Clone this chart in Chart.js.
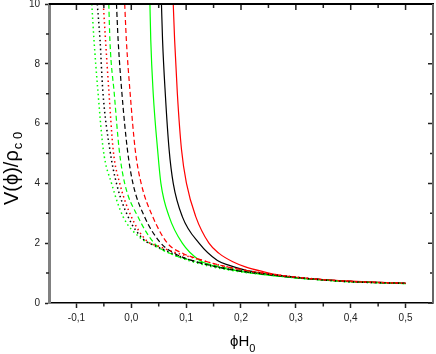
<!DOCTYPE html>
<html>
<head>
<meta charset="utf-8">
<script src="https://cdn.jsdelivr.net/npm/chart.js@4"></script>
<style>
  html, body { margin: 0; padding: 0; background: #fff; }
  #wrap { width: 436px; height: 354px; position: relative; }
</style>
</head>
<body>
<div id="wrap"><canvas id="myChart" width="436" height="354"></canvas></div>
<script>
// axis ticks
var xTickValues = [-0.1, 0.0, 0.1, 0.2, 0.3, 0.4, 0.5];
var xMinorValues = [-0.05, 0.05, 0.15, 0.25, 0.35, 0.45];
var yTickValues = [0, 2, 4, 6, 8, 10];
var yMinorValues = [1, 3, 5, 7, 9];

// solid curves
var solidRedX = [0.0765, 0.079, 0.084, 0.0916, 0.1006, 0.1175, 0.1416, 0.160, 0.185, 0.208, 0.24, 0.27, 0.30, 0.35, 0.40, 0.45, 0.50];
var solidRedY = [10, 8.8, 7.0, 5.12, 4.0, 2.89, 2.0, 1.66, 1.38, 1.21, 1.05, 0.93, 0.86, 0.78, 0.73, 0.69, 0.66];
var solidBlackX = [0.055, 0.057, 0.062, 0.069, 0.0765, 0.093, 0.1235, 0.157, 0.18, 0.208, 0.24, 0.27, 0.30, 0.35, 0.40, 0.45, 0.50];
var solidBlackY = [10, 8.8, 7.0, 5.12, 4.0, 2.89, 2.0, 1.42, 1.25, 1.10, 0.99, 0.91, 0.85, 0.78, 0.72, 0.69, 0.66];
var solidGreenX = [0.034, 0.0355, 0.040, 0.048, 0.054, 0.069, 0.093, 0.1235, 0.16, 0.208, 0.25, 0.30, 0.35, 0.40, 0.45, 0.50];
var solidGreenY = [10, 8.8, 7.0, 5.12, 4.0, 2.89, 2.0, 1.44, 1.2, 1.03, 0.93, 0.84, 0.77, 0.71, 0.68, 0.65];

// dashed curves
var dashRedX = [-0.012, -0.009, -0.002, 0.0072, 0.018, 0.039, 0.066, 0.095, 0.1175, 0.154, 0.196, 0.25, 0.30, 0.35, 0.40, 0.45, 0.50];
var dashRedY = [10, 8.8, 7.0, 5.12, 4.0, 2.89, 2.0, 1.65, 1.5, 1.3, 1.13, 0.97, 0.86, 0.78, 0.72, 0.69, 0.66];
var dashBlackX = [-0.027, -0.024, -0.017, -0.007, 0.003, 0.024, 0.054, 0.081, 0.0995, 0.1475, 0.20, 0.25, 0.30, 0.35, 0.40, 0.45, 0.50];
var dashBlackY = [10, 8.8, 7.0, 5.12, 4.0, 2.89, 2.0, 1.64, 1.49, 1.24, 1.06, 0.95, 0.85, 0.78, 0.72, 0.68, 0.66];
var dashGreenX = [-0.041, -0.039, -0.031, -0.022, -0.012, 0.012, 0.042, 0.075, 0.10, 0.129, 0.18, 0.25, 0.30, 0.35, 0.40, 0.45, 0.50];
var dashGreenY = [10, 8.8, 7.0, 5.12, 4.0, 2.89, 2.0, 1.62, 1.47, 1.35, 1.15, 0.96, 0.85, 0.77, 0.71, 0.68, 0.65];

// dotted curves
var dotRedX = [-0.051, -0.047, -0.041, -0.033, -0.021, 0.0, 0.027, 0.05, 0.075, 0.111, 0.16, 0.20, 0.25, 0.30, 0.35, 0.40, 0.45, 0.50];
var dotRedY = [10, 8.8, 7.12, 5.12, 4.0, 2.89, 2.1, 1.9, 1.72, 1.52, 1.27, 1.12, 0.98, 0.87, 0.78, 0.72, 0.68, 0.66];
var dotBlackX = [-0.062, -0.057, -0.052, -0.039, -0.027, -0.006, 0.021, 0.045, 0.060, 0.10, 0.15, 0.20, 0.25, 0.30, 0.35, 0.40, 0.45, 0.50];
var dotBlackY = [10, 8.8, 7.12, 5.12, 4.0, 2.89, 2.15, 1.9, 1.78, 1.48, 1.23, 1.07, 0.96, 0.86, 0.77, 0.71, 0.68, 0.66];
var dotGreenX = [-0.072, -0.068, -0.061, -0.051, -0.036, -0.015, 0.015, 0.039, 0.054, 0.10, 0.15, 0.20, 0.25, 0.30, 0.35, 0.40, 0.45, 0.50];
var dotGreenY = [10, 8.8, 7.12, 5.12, 4.0, 2.89, 2.2, 1.95, 1.80, 1.45, 1.2, 1.04, 0.94, 0.84, 0.77, 0.71, 0.68, 0.65];

var RED = "#ff0000", BLACK = "#000000", GREEN = "#00ff00";
var FONT = '"Liberation Sans", Arial, sans-serif';

function pts(xs, ys) {
  return xs.map(function (x, i) { return { x: x, y: ys[i] }; });
}

function series(xs, ys, color, dash, width) {
  return {
    data: pts(xs, ys),
    borderColor: color,
    backgroundColor: color,
    borderWidth: width,
    borderDash: dash,
    pointRadius: 0,
    showLine: true,
    fill: false,
    cubicInterpolationMode: "monotone"
  };
}

// no label padding, the plot box is placed by hand
function noPad(s) {
  s.paddingTop = 0; s.paddingBottom = 0;
  s.paddingLeft = 0; s.paddingRight = 0;
}

// minor ticks, mirrored ticks on top/right, frame and axis titles
var framePlugin = {
  id: "frame",
  afterDraw: function (chart) {
    var ctx = chart.ctx, a = chart.chartArea;
    var xs = chart.scales.x, ys = chart.scales.y;
    ctx.save();
    ctx.strokeStyle = "#222";
    ctx.lineWidth = 1.5;
    ctx.beginPath();
    xTickValues.forEach(function (v) {
      var px = xs.getPixelForValue(v);
      ctx.moveTo(px, a.top); ctx.lineTo(px, a.top + 6);
    });
    xMinorValues.forEach(function (v) {
      var px = xs.getPixelForValue(v);
      ctx.moveTo(px, a.bottom); ctx.lineTo(px, a.bottom + 3.5);
      ctx.moveTo(px, a.top); ctx.lineTo(px, a.top + 4);
    });
    yTickValues.forEach(function (v) {
      var py = ys.getPixelForValue(v);
      ctx.moveTo(a.right, py); ctx.lineTo(a.right - 5, py);
    });
    yMinorValues.forEach(function (v) {
      var py = ys.getPixelForValue(v);
      ctx.moveTo(a.left, py); ctx.lineTo(a.left - 3, py);
      ctx.moveTo(a.right, py); ctx.lineTo(a.right - 3, py);
    });
    ctx.stroke();

    // top and right border
    ctx.strokeStyle = "#000";
    ctx.lineWidth = 2;
    ctx.beginPath();
    ctx.moveTo(a.left, a.top); ctx.lineTo(a.right + 1, a.top);
    ctx.stroke();
    ctx.strokeStyle = "#666";
    ctx.beginPath();
    ctx.moveTo(a.right, a.top); ctx.lineTo(a.right, a.bottom);
    ctx.stroke();

    // y title: V(phi)/rho_c0
    ctx.fillStyle = "#000";
    ctx.textBaseline = "alphabetic";
    ctx.translate(18, 205);
    ctx.rotate(-Math.PI / 2);
    ctx.font = "20px " + FONT;
    var main = "V(\u03d5)/\u03c1";
    ctx.fillText(main, 0, 0);
    var w = ctx.measureText(main).width;
    ctx.font = "13px " + FONT;
    ctx.fillText("c 0", w + 1, 4);
    ctx.setTransform(1, 0, 0, 1, 0, 0);

    // x title: phi H_0
    ctx.font = "15px " + FONT;
    ctx.fillText("\u03d5H", 230, 346);
    var w2 = ctx.measureText("\u03d5H").width;
    ctx.font = "11px " + FONT;
    ctx.fillText("0", 230 + w2, 352);
    ctx.restore();
  }
};

var datasets = [
  series(dotRedX, dotRedY, RED, [1.5, 3], 1.5),
  series(dotBlackX, dotBlackY, BLACK, [1.5, 3], 1.5),
  series(dotGreenX, dotGreenY, GREEN, [1.5, 3], 1.5),
  series(dashRedX, dashRedY, RED, [5, 3], 1.2),
  series(dashBlackX, dashBlackY, BLACK, [5, 3], 1.2),
  series(dashGreenX, dashGreenY, GREEN, [5, 3], 1.2),
  series(solidRedX, solidRedY, RED, [], 1.2),
  series(solidBlackX, solidBlackY, BLACK, [], 1.2),
  series(solidGreenX, solidGreenY, GREEN, [], 1.2)
];

var myChart = new Chart(document.getElementById("myChart").getContext("2d"), {
  type: "scatter",
  data: { datasets: datasets },
  plugins: [framePlugin],
  options: {
    responsive: false,
    animation: false,
    layout: { padding: { left: 0, top: 4, right: 3, bottom: 0 } },
    plugins: { legend: { display: false }, tooltip: { enabled: false } },
    scales: {
      x: {
        type: "linear",
        min: -0.15,
        max: 0.55,
        afterFit: function (s) { s.height = 51; noPad(s); },
        afterBuildTicks: function (s) {
          s.ticks = xTickValues.map(function (v) { return { value: v }; });
        },
        ticks: {
          padding: 4,
          color: "#222",
          font: { family: FONT, size: 10 },
          maxRotation: 0,
          callback: function (v) { return Number(v).toFixed(1).replace(".", ","); }
        },
        grid: { drawOnChartArea: false, drawTicks: true, tickLength: 5, tickColor: "#222", tickWidth: 1.5 },
        border: { display: true, color: "#000", width: 1.5 }
      },
      y: {
        type: "linear",
        min: 0,
        max: 10,
        afterFit: function (s) { s.width = 49; noPad(s); },
        afterBuildTicks: function (s) {
          s.ticks = yTickValues.map(function (v) { return { value: v }; });
        },
        ticks: {
          padding: 5,
          color: "#222",
          font: { family: FONT, size: 10 }
        },
        grid: { drawOnChartArea: false, drawTicks: true, tickLength: 4, tickColor: "#222", tickWidth: 1.5 },
        border: { display: true, color: "#808080", width: 3 }
      }
    }
  }
});
</script>
</body>
</html>
